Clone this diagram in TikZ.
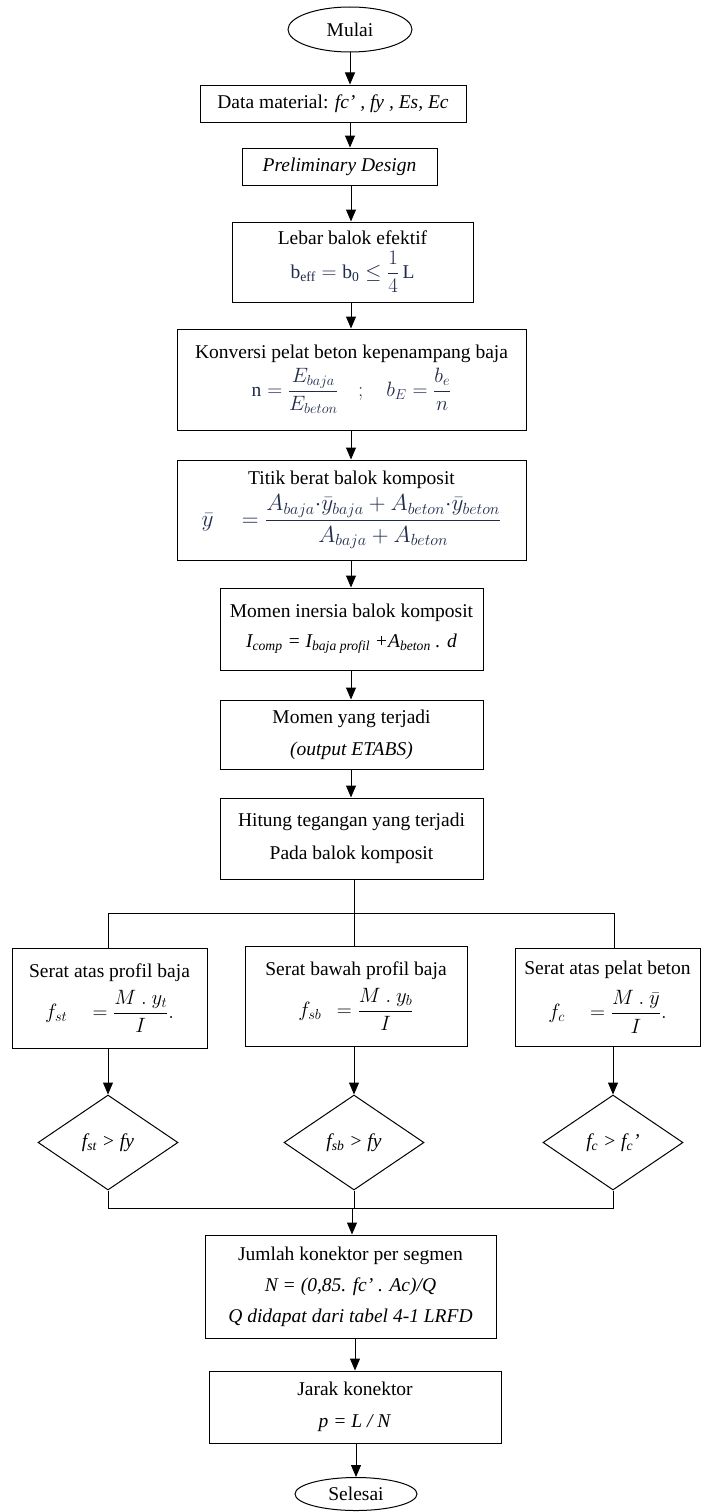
\documentclass[tikz,border=0pt]{standalone}
\usepackage{amsmath}
\usepackage{fontspec}
\setmainfont{Liberation Serif}
\usetikzlibrary{shapes.geometric,arrows.meta}
\newcommand{\myfs}{\fontsize{19.5}{23}\selectfont}
\definecolor{eqblue}{rgb}{0.13,0.17,0.30}
\tikzset{
  box/.style={draw, line width=1pt, rectangle, inner sep=0pt, align=center, font=\myfs},
  term/.style={draw, line width=1pt, ellipse, inner sep=0pt, font=\myfs},
  dec/.style={draw, line width=1pt, diamond, inner sep=0pt, minimum width=140pt, minimum height=95pt, font=\myfs},
  arr/.style={line width=1pt, -{Triangle[length=12pt,width=10pt]}},
  ln/.style={line width=1pt},
}
\begin{document}
\begin{tikzpicture}[x=1pt,y=-1pt]
\useasboundingbox[fill=white] (0,0) rectangle (707,1512);
\coordinate (ax) at (351,0);

\node[term, minimum width=124pt, minimum height=45pt] (mulai) at (350,29.5) {Mulai};
\node[box, minimum width=266pt, minimum height=37pt] (data) at (333,103.5) {Data material: \textit{fc’ , fy , Es, Ec}};
\node[box, minimum width=195pt, minimum height=37pt] (prelim) at (339.5,166.5) {\textit{Preliminary Design}};
\node[box, minimum width=241pt, minimum height=80pt] (lebar) at (352.5,262) {Lebar balok efektif\\[5pt] \color{eqblue}$\mathrm{b_{eff}} = \mathrm{b_0} \le \dfrac{1}{4}\,\mathrm{L}$};
\node[box, minimum width=349pt, minimum height=101pt] (konv) at (351.5,379.5) {Konversi pelat beton kepenampang baja\\[4pt] \color{eqblue}$\mathrm{n} = \dfrac{E_{baja}}{E_{beton}} \quad ; \quad b_{E} = \dfrac{b_e}{n}$};
\node[box, minimum width=349pt, minimum height=100pt] (titik) at (351.5,510) {Titik berat balok komposit\\[5pt] \color{eqblue}\scalebox{1.12}{$\bar{y} \quad = \dfrac{A_{baja}{\cdot}\bar{y}_{baja} + A_{beton}{\cdot}\bar{y}_{beton}}{A_{baja} + A_{beton}}$}};
\node[box, minimum width=263pt, minimum height=82pt] (inersia) at (351.5,629) {Momen inersia balok komposit\\[7pt] \textit{I\textsubscript{comp} = I\textsubscript{baja profil} +A\textsubscript{beton} . d}};
\node[box, minimum width=263pt, minimum height=69pt] (momen) at (351.5,734.5) {Momen yang terjadi\\[9pt] \textit{(output ETABS)}};
\node[box, minimum width=263pt, minimum height=81pt] (hitung) at (351.5,838.5) {Hitung tegangan yang terjadi\\[10pt] Pada balok komposit};

\node[box, minimum width=195pt, minimum height=100pt] (s1) at (109.5,998) {Serat atas profil baja\\[8pt] $f_{st} \quad = \dfrac{M\ .\ y_t}{I}.$};
\node[box, minimum width=222pt, minimum height=100pt] (s2) at (356,996) {Serat bawah profil baja\\[8pt] $f_{sb} \ \ = \dfrac{M\ .\ y_b}{I}$};
\node[box, minimum width=185pt, minimum height=98pt] (s3) at (607.5,997) {Serat atas pelat beton\\[11pt] $f_{c} \quad = \dfrac{M\ .\ \bar{y}}{I}.$};

\node[dec] (d1) at (108,1142.5) {\textit{f\textsubscript{st} > fy}};
\node[dec] (d2) at (354,1142.5) {\textit{f\textsubscript{sb} > fy}};
\node[dec] (d3) at (613,1142.5) {\textit{f\textsubscript{c} > f\textsubscript{c}’}};

\node[box, minimum width=291pt, minimum height=103pt] (jumlah) at (350.5,1286.5) {Jumlah konektor per segmen\\[8pt] \textit{N = (0,85. fc’ . Ac)/Q}\\[8pt] \textit{Q didapat dari tabel 4-1 LRFD}};
\node[box, minimum width=292pt, minimum height=72pt] (jarak) at (355,1407) {Jarak konektor\\[9pt] \textit{p = L / N}};
\node[term, minimum width=122pt, minimum height=33pt] (selesai) at (356,1494) {Selesai};

\coordinate (top) at (354,913);
\coordinate (tl) at (108,913);
\coordinate (tr) at (614,913);
\coordinate (bot) at (352,1208);
\coordinate (bl) at (108,1208);
\coordinate (br) at (614,1208);

\draw[arr] (mulai.south -| 350,0) -- (data.north -| 350,0);
\draw[arr] (data.south -| 350,0) -- (prelim.north -| 350,0);
\draw[arr] (prelim.south -| ax) -- (lebar.north -| ax);
\draw[arr] (lebar.south -| ax) -- (konv.north -| ax);
\draw[arr] (konv.south -| ax) -- (titik.north -| ax);
\draw[arr] (titik.south -| ax) -- (inersia.north -| ax);
\draw[arr] (inersia.south -| ax) -- (momen.north -| ax);
\draw[arr] (momen.south -| ax) -- (hitung.north -| ax);

\draw[ln] (hitung.south -| top) -- (top);
\draw[ln] (tl) -- (tr);
\draw[ln] (tl) -- (s1.north -| tl);
\draw[ln] (top) -- (s2.north -| top);
\draw[ln] (tr) -- (s3.north -| tr);

\draw[arr] (s1.south -| d1) -- (d1.north);
\draw[arr] (s2.south -| d2) -- (d2.north);
\draw[arr] (s3.south -| d3) -- (d3.north);

\draw[ln] (d1.south) -- (bl);
\draw[ln] (d2.south) -- (d2.south |- bot);
\draw[ln] (d3.south) -- (d3.south |- br);
\draw[ln] (bl) -- (br);
\draw[arr] (bot) -- (jumlah.north -| bot);
\draw[arr] (jumlah.south -| 355,0) -- (jarak.north -| 355,0);
\draw[arr] (jarak.south -| selesai) -- (selesai.north);
\end{tikzpicture}
\end{document}
